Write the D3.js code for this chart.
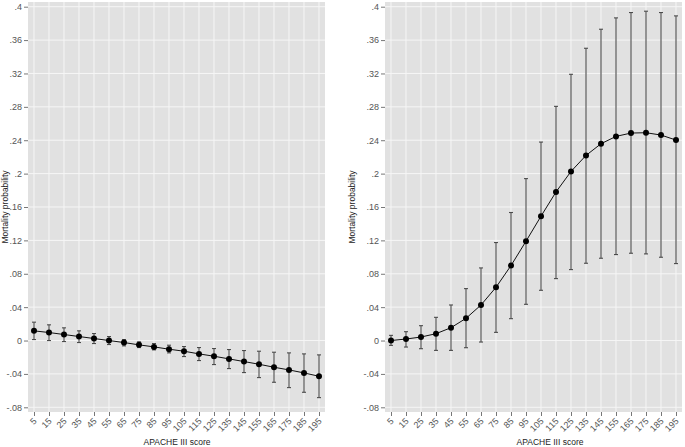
<!DOCTYPE html>
<html>
<head>
<meta charset="utf-8">
<script src="https://cdn.jsdelivr.net/npm/d3@7"></script>
<style>
  html, body { margin: 0; padding: 0; background: #fff; }
  svg { display: block; font-family: "Liberation Sans", Arial, sans-serif; }
</style>
</head>
<body>
<svg id="chart" width="685" height="447"></svg>
<script>
// ---- data ----
const scores = [5, 15, 25, 35, 45, 55, 65, 75, 85, 95, 105, 115, 125, 135, 145, 155, 165, 175, 185, 195];
const yTicks = [-0.08, -0.04, 0, 0.04, 0.08, 0.12, 0.16, 0.2, 0.24, 0.28, 0.32, 0.36, 0.4];

const leftEst = [0.0116, 0.0096, 0.0072, 0.0048, 0.0024, 0.0, -0.0024, -0.0052, -0.0076, -0.0104,
                 -0.0128, -0.016, -0.0188, -0.022, -0.0252, -0.0284, -0.032, -0.0352, -0.0388, -0.0428];
const leftHi  = [0.022, 0.0188, 0.0152, 0.0116, 0.0084, 0.0048, 0.0012, -0.0016, -0.0036, -0.0056,
                 -0.0072, -0.0084, -0.0096, -0.0108, -0.012, -0.0128, -0.014, -0.0148, -0.016, -0.0172];
const leftLo  = [0.0012, 0.0, -0.0012, -0.0024, -0.0036, -0.0048, -0.0064, -0.0084, -0.0112, -0.0148,
                 -0.0192, -0.024, -0.0288, -0.0336, -0.0384, -0.0444, -0.05, -0.0564, -0.062, -0.0684];

const rightEst = [0.0, 0.0018, 0.0042, 0.0082, 0.0154, 0.0266, 0.0426, 0.0638, 0.0898, 0.119,
                  0.149, 0.178, 0.2026, 0.2218, 0.2358, 0.2446, 0.2486, 0.249, 0.2462, 0.2402];
const rightHi  = [0.0062, 0.0106, 0.0178, 0.0278, 0.0426, 0.0622, 0.087, 0.1174, 0.1534, 0.194,
                  0.2378, 0.2806, 0.319, 0.3502, 0.373, 0.3866, 0.393, 0.3946, 0.393, 0.389];
const rightLo  = [-0.0058, -0.0078, -0.0098, -0.0118, -0.0118, -0.0086, -0.0018, 0.0098, 0.0262, 0.0434,
                  0.0602, 0.0742, 0.085, 0.0926, 0.0986, 0.103, 0.1046, 0.1038, 0.0998, 0.0922];

const xTitle = "APACHE III score";
const yTitle = "Mortality probability";

// ---- drawing ----
const svg = d3.select("#chart");

function fmt(v) {
  if (Math.abs(v) < 1e-9) return "0";
  let s = (+v.toFixed(2)).toString();
  return s.replace(/^(-?)0\./, "$1.");
}

function panel(cfg) {
  const { left, right, top, bottom, est, hi, lo, xTitleX, yTitleX } = cfg;
  const x = d3.scaleLinear().domain([1, 199]).range([left, right]);
  const y = d3.scaleLinear().domain([-0.08, 0.4]).range([407.3, 6.7]);
  const g = svg.append("g");

  g.append("rect").attr("x", left).attr("y", top)
    .attr("width", right - left).attr("height", bottom - top)
    .attr("fill", "#e1e1e1");

  // grid
  g.selectAll(".hg").data(yTicks).join("line")
    .attr("x1", left).attr("x2", right)
    .attr("y1", d => y(d)).attr("y2", d => y(d))
    .attr("stroke", "#f6f6f6").attr("stroke-width", 1);
  g.selectAll(".vg").data(scores).join("line")
    .attr("y1", top).attr("y2", bottom)
    .attr("x1", d => x(d)).attr("x2", d => x(d))
    .attr("stroke", "#f6f6f6").attr("stroke-width", 1);

  // y axis
  const yAxis = d3.axisLeft(y).tickValues(yTicks).tickFormat(fmt).tickSize(4).tickPadding(2);
  const ya = g.append("g").attr("transform", `translate(${left},0)`).call(yAxis);
  ya.select(".domain").remove();
  ya.selectAll(".tick line").attr("stroke", "#777");
  ya.selectAll(".tick text").attr("fill", "#555").attr("font-size", 9)
    .attr("font-family", "Liberation Sans, Arial, sans-serif");

  // x axis
  const xAxis = d3.axisBottom(x).tickValues(scores).tickFormat(d3.format("d")).tickSize(4);
  const xa = g.append("g").attr("transform", `translate(0,${bottom})`).call(xAxis);
  xa.select(".domain").remove();
  xa.selectAll(".tick line").attr("stroke", "#777");
  xa.selectAll(".tick text").attr("fill", "#555").attr("font-size", 9)
    .attr("font-family", "Liberation Sans, Arial, sans-serif")
    .attr("text-anchor", "end")
    .attr("y", null)
    .attr("dy", "0.35em")
    .attr("transform", "translate(0.5,7.5) rotate(-45)");

  // titles
  g.append("text").attr("x", xTitleX).attr("y", 445)
    .attr("text-anchor", "middle").attr("font-size", 8.5).attr("fill", "#222")
    .text(xTitle);
  g.append("text").attr("transform", `translate(${yTitleX},${(top + bottom) / 2}) rotate(-90)`)
    .attr("text-anchor", "middle").attr("font-size", 8.5).attr("fill", "#222")
    .text(yTitle);

  // error bars
  const eb = g.append("g");
  const cap = 2;
  scores.forEach((s, i) => {
    const cx = x(s);
    eb.append("line").attr("x1", cx).attr("x2", cx).attr("y1", y(hi[i])).attr("y2", y(lo[i]))
      .attr("stroke", "#4a4a4a").attr("stroke-width", 1.1);
    eb.append("line").attr("x1", cx - cap).attr("x2", cx + cap).attr("y1", y(hi[i])).attr("y2", y(hi[i]))
      .attr("stroke", "#4a4a4a").attr("stroke-width", 1.1);
    eb.append("line").attr("x1", cx - cap).attr("x2", cx + cap).attr("y1", y(lo[i])).attr("y2", y(lo[i]))
      .attr("stroke", "#4a4a4a").attr("stroke-width", 1.1);
  });

  // line
  const line = d3.line().x((d, i) => x(scores[i])).y(d => y(d));
  g.append("path").datum(est).attr("d", line)
    .attr("fill", "none").attr("stroke", "#111").attr("stroke-width", 1);

  // points
  g.selectAll(".pt").data(est).join("circle")
    .attr("cx", (d, i) => x(scores[i])).attr("cy", d => y(d)).attr("r", 3)
    .attr("fill", "#000");
}

panel({ left: 28, right: 325, top: 2, bottom: 412, est: leftEst, hi: leftHi, lo: leftLo,
        xTitleX: 177, yTitleX: 7.5 });
panel({ left: 385, right: 682, top: 2, bottom: 412, est: rightEst, hi: rightHi, lo: rightLo,
        xTitleX: 550, yTitleX: 355 });
</script>
</body>
</html>
